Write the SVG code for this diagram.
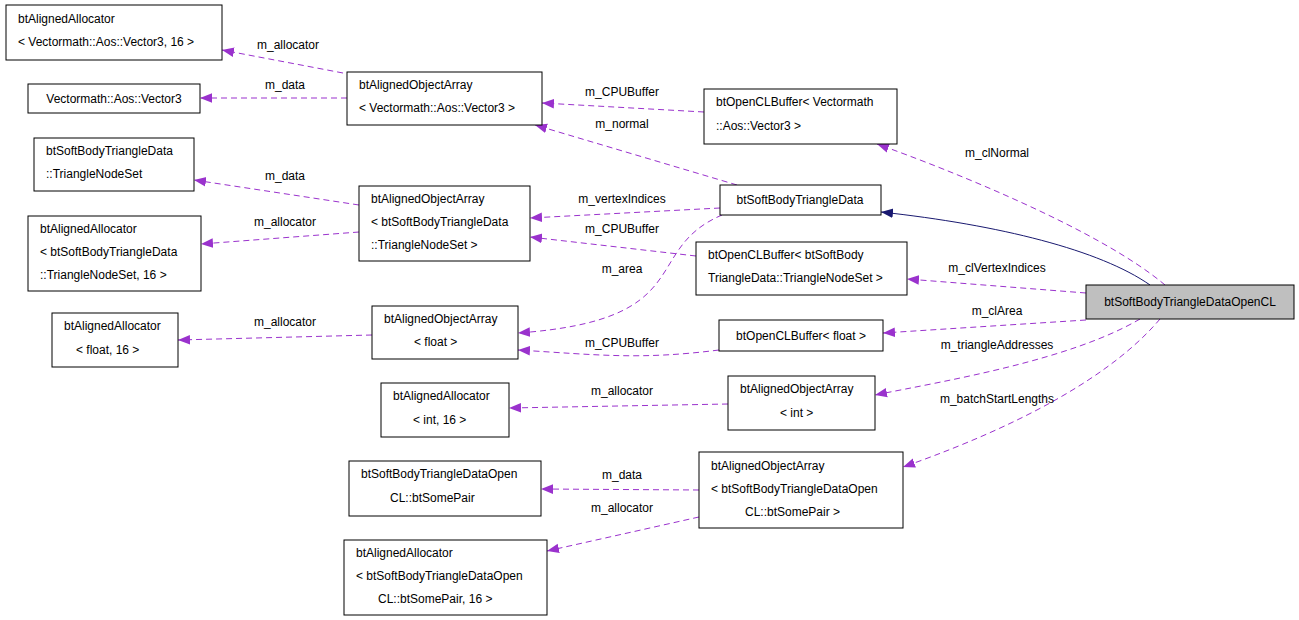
<svg xmlns="http://www.w3.org/2000/svg" width="1299" height="620" viewBox="0 0 1299 620">
<style>
.n rect{fill:#fff;stroke:#000;stroke-width:1}
text{font-family:"Liberation Sans",Arial,sans-serif;font-size:12px;fill:#000}
.c{text-anchor:middle}
.e{fill:none;stroke:#9a32cd;stroke-width:1;stroke-dasharray:6,4}
.l{font-size:12px;text-anchor:middle}
</style>
<defs>
<marker id="a" viewBox="0 0 10 10" refX="10" refY="5" markerWidth="12" markerHeight="12" markerUnits="userSpaceOnUse" orient="auto"><path d="M0,1L10,5L0,9z" fill="#9a32cd"/></marker>
<marker id="b" viewBox="0 0 10 10" refX="10" refY="5" markerWidth="12" markerHeight="12" markerUnits="userSpaceOnUse" orient="auto"><path d="M0,1L10,5L0,9z" fill="#191970"/></marker>
</defs>
<rect width="1299" height="620" fill="#fff"/>
<g id="connectors">
<path class="e" marker-end="url(#a)" d="M343,73L222,50"/>
<path class="e" marker-end="url(#a)" d="M347,98L200,98"/>
<path class="e" marker-end="url(#a)" d="M704,112L542,103"/>
<path class="e" marker-end="url(#a)" d="M737,185L535,125"/>
<path class="e" marker-end="url(#a)" d="M359,205L194,180"/>
<path class="e" marker-end="url(#a)" d="M359,232L201,244"/>
<path class="e" marker-end="url(#a)" d="M720,208L530,218"/>
<path class="e" marker-end="url(#a)" d="M696,256L530,237"/>
<path class="e" marker-end="url(#a)" d="M722,215C640,250,700,320,518,333"/>
<path class="e" marker-end="url(#a)" d="M372,335L178,340"/>
<path class="e" marker-end="url(#a)" d="M719,350C640,360,600,355,518,350"/>
<path class="e" marker-end="url(#a)" d="M728,404L509,408"/>
<path class="e" marker-end="url(#a)" d="M699,490L541,489"/>
<path class="e" marker-end="url(#a)" d="M699,517L547,551"/>
<path class="e" marker-end="url(#a)" d="M1165,285C1100,230,950,170,877,144"/>
<path class="e" marker-end="url(#a)" d="M1086,293L907,279"/>
<path class="e" marker-end="url(#a)" d="M1086,320L883,333"/>
<path class="e" marker-end="url(#a)" d="M1140,319C1070,360,950,380,875,395"/>
<path class="e" marker-end="url(#a)" d="M1160,319C1100,390,980,440,903,467"/>
<path fill="none" stroke="#191970" marker-end="url(#b)" d="M1150,285C1100,250,1000,225,881,212"/>
<text class="l" x="288" y="49">m_allocator</text>
<text class="l" x="285" y="89">m_data</text>
<text class="l" x="622" y="96">m_CPUBuffer</text>
<text class="l" x="622" y="128">m_normal</text>
<text class="l" x="285" y="180">m_data</text>
<text class="l" x="285" y="226">m_allocator</text>
<text class="l" x="622" y="203">m_vertexIndices</text>
<text class="l" x="622" y="233">m_CPUBuffer</text>
<text class="l" x="622" y="273">m_area</text>
<text class="l" x="285" y="326">m_allocator</text>
<text class="l" x="622" y="347">m_CPUBuffer</text>
<text class="l" x="622" y="395">m_allocator</text>
<text class="l" x="622" y="479">m_data</text>
<text class="l" x="622" y="512">m_allocator</text>
<text class="l" x="997" y="157">m_clNormal</text>
<text class="l" x="997" y="272">m_clVertexIndices</text>
<text class="l" x="997" y="315">m_clArea</text>
<text class="l" x="997" y="349">m_triangleAddresses</text>
<text class="l" x="997" y="403">m_batchStartLengths</text>
</g>
<g id="n1" class="n"><rect x="6" y="5" width="216" height="55"/><text x="18" y="23">btAlignedAllocator</text><text x="18" y="46">&lt; Vectormath::Aos::Vector3, 16 &gt;</text></g>
<g id="n2" class="n"><rect x="28" y="84" width="172" height="29"/><text class="c" x="114" y="103">Vectormath::Aos::Vector3</text></g>
<g id="n3" class="n"><rect x="347" y="72" width="195" height="53"/><text x="359" y="89">btAlignedObjectArray</text><text x="359" y="112">&lt; Vectormath::Aos::Vector3 &gt;</text></g>
<g id="n4" class="n"><rect x="704" y="89" width="193" height="55"/><text x="716" y="106">btOpenCLBuffer&lt; Vectormath</text><text x="716" y="130">::Aos::Vector3 &gt;</text></g>
<g id="n5" class="n"><rect x="34" y="138" width="160" height="53"/><text x="46" y="155">btSoftBodyTriangleData</text><text x="46" y="178">::TriangleNodeSet</text></g>
<g id="n6" class="n"><rect x="28" y="216" width="173" height="75"/><text x="40" y="233">btAlignedAllocator</text><text x="40" y="256">&lt; btSoftBodyTriangleData</text><text x="40" y="279">::TriangleNodeSet, 16 &gt;</text></g>
<g id="n7" class="n"><rect x="359" y="186" width="171" height="75"/><text x="371" y="203">btAlignedObjectArray</text><text x="371" y="226">&lt; btSoftBodyTriangleData</text><text x="371" y="249">::TriangleNodeSet &gt;</text></g>
<g id="n8" class="n"><rect x="720" y="185" width="161" height="30"/><text class="c" x="800" y="204">btSoftBodyTriangleData</text></g>
<g id="n9" class="n"><rect x="696" y="242" width="211" height="53"/><text x="708" y="259">btOpenCLBuffer&lt; btSoftBody</text><text x="708" y="282">TriangleData::TriangleNodeSet &gt;</text></g>
<g id="n10" class="n"><rect x="1086" y="285" width="208" height="34" style="fill:#bfbfbf"/><text class="c" x="1190" y="306">btSoftBodyTriangleDataOpenCL</text></g>
<g id="n11" class="n"><rect x="52" y="313" width="126" height="54"/><text x="64" y="330">btAlignedAllocator</text><text x="76" y="354">&lt; float, 16 &gt;</text></g>
<g id="n12" class="n"><rect x="372" y="306" width="146" height="53"/><text x="384" y="323">btAlignedObjectArray</text><text x="414" y="346">&lt; float &gt;</text></g>
<g id="n13" class="n"><rect x="719" y="320" width="164" height="31"/><text class="c" x="801" y="340">btOpenCLBuffer&lt; float &gt;</text></g>
<g id="n14" class="n"><rect x="381" y="383" width="128" height="54"/><text x="393" y="400">btAlignedAllocator</text><text x="413" y="424">&lt; int, 16 &gt;</text></g>
<g id="n15" class="n"><rect x="728" y="376" width="147" height="54"/><text x="740" y="393">btAlignedObjectArray</text><text x="780" y="417">&lt; int &gt;</text></g>
<g id="n16" class="n"><rect x="349" y="461" width="192" height="55"/><text x="361" y="478">btSoftBodyTriangleDataOpen</text><text x="390" y="502">CL::btSomePair</text></g>
<g id="n17" class="n"><rect x="699" y="452" width="204" height="76"/><text x="711" y="470">btAlignedObjectArray</text><text x="711" y="493">&lt; btSoftBodyTriangleDataOpen</text><text x="745" y="516">CL::btSomePair &gt;</text></g>
<g id="n18" class="n"><rect x="344" y="540" width="203" height="75"/><text x="356" y="557">btAlignedAllocator</text><text x="356" y="580">&lt; btSoftBodyTriangleDataOpen</text><text x="378" y="603">CL::btSomePair, 16 &gt;</text></g>
</svg>
